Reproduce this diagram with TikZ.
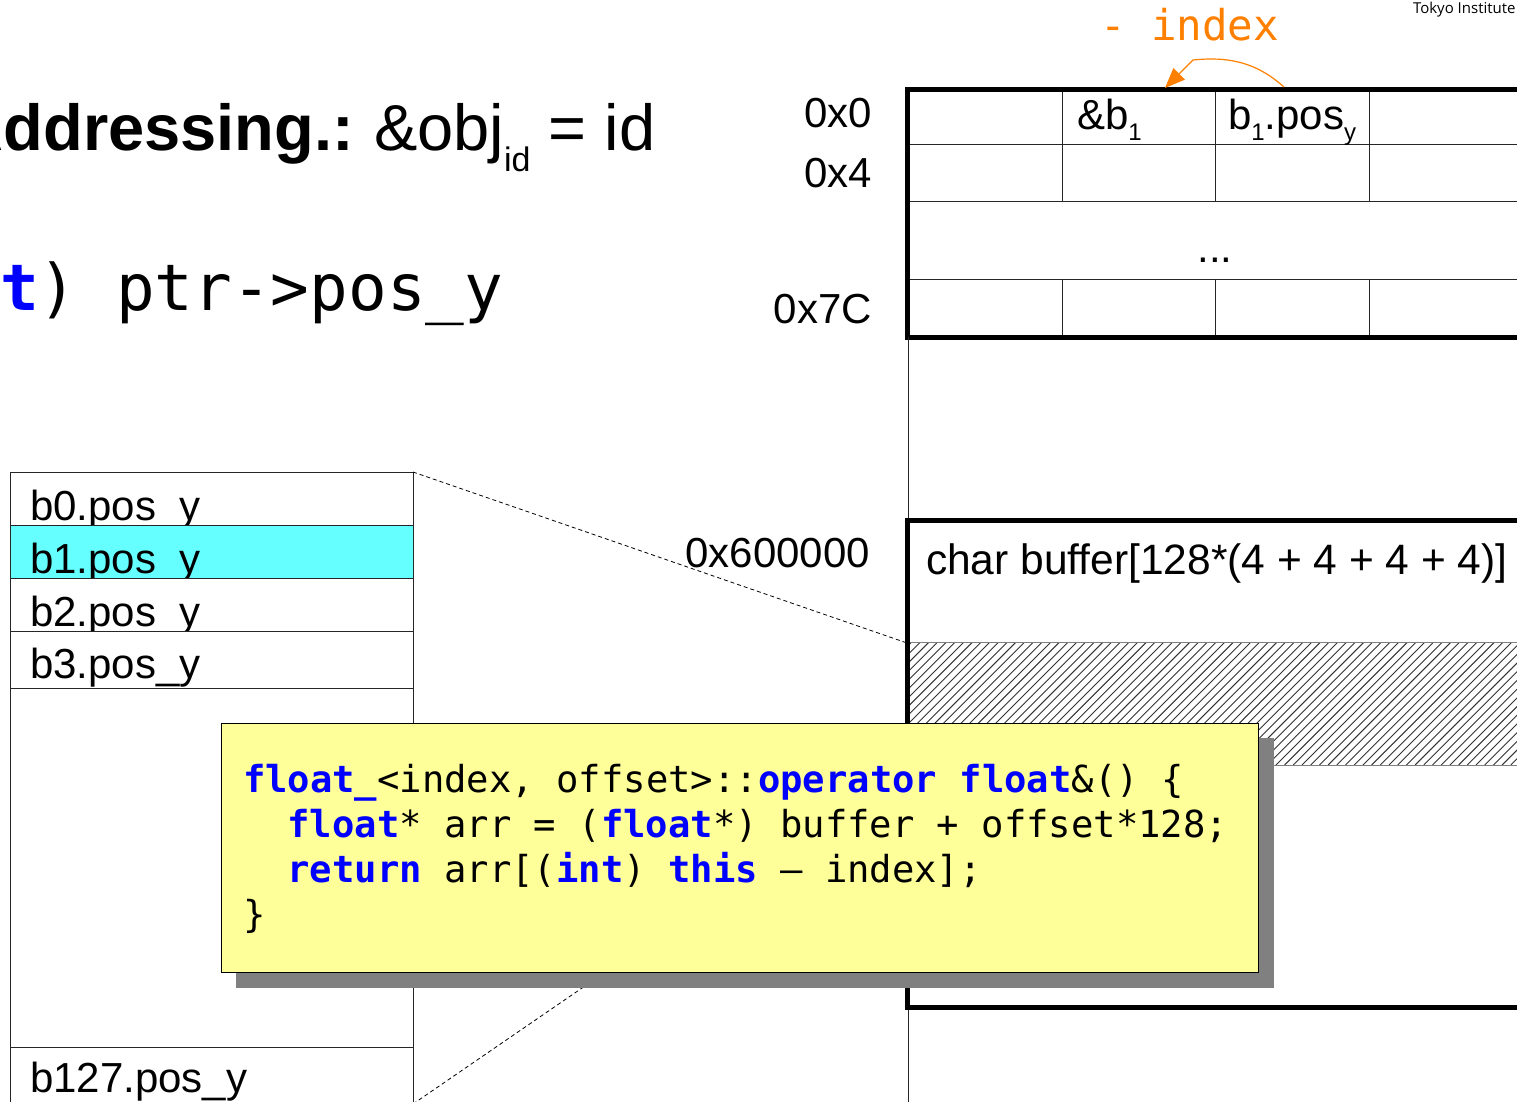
\documentclass[tikz,border=0pt]{standalone}
\usepackage{fontspec}
\setmainfont{Liberation Sans}
\newfontfamily\monofont{DejaVu Sans Mono}
\newfontfamily\tokyofont{Open Sans}
\usetikzlibrary{arrows.meta}
\definecolor{kwblue}{HTML}{0000FF}
\definecolor{hlcyan}{HTML}{66FFFF}
\definecolor{codeyellow}{HTML}{FFFF99}
\definecolor{shadowgray}{HTML}{808080}
\definecolor{idxorange}{HTML}{FF8000}
\newcommand\kw[1]{\textcolor{kwblue}{\bfseries #1}}
\newcommand\fs[1]{\fontsize{#1}{#1}\selectfont}
\newcommand\lowsub[3]{\raisebox{-#1pt}{\fs{#2}#3}}
\begin{document}
\begin{tikzpicture}[x=1pt,y=-1pt,
  txt/.style={inner sep=0pt,outer sep=0pt,anchor=base west},
  txtr/.style={inner sep=0pt,outer sep=0pt,anchor=base east},
  thickline/.style={line width=5pt,line join=miter,line cap=butt},
  thinline/.style={line width=1pt,black!85},
  cellbox/.style={line width=1pt,draw=black!85},
  hatchline/.style={line width=0.9pt,black!80},
  dashline/.style={line width=0.8pt,dash pattern=on 4pt off 3pt},
  codeln/.style={txt,font=\monofont\fs{37.2}},
  label42/.style={font=\fs{42}}]
\useasboundingbox (0,0) rectangle (1517,1102);
\fill[white] (0,0) rectangle (1517,1102);

% header texts
\node[txtr,font=\fs{65}\bfseries] (addr) at (354,151) {Addressing.:};
\node[txt,font=\fs{65}] (addreq) at (374,151) {\&obj\lowsub{21}{34}{id} = id};
\node[txt,font=\monofont\fs{64.3}] (ptrline) at (0,310) {\kw{t}) ptr->pos\_y};
\node[txt,font=\monofont\fs{42.5},text=idxorange] (minusidx) at (1100,41) {- index};
\node[txt,font=\tokyofont\fs{15}] (tokyo) at (1413,14) {Tokyo Institute};

% memory table
\draw[thinline] (907,145) -- (1520,145);
\draw[thinline] (907,202) -- (1520,202);
\draw[thinline] (907,279) -- (1520,279);
\foreach \x in {1062,1215,1369} {
  \draw[thinline] (\x,90) -- (\x,202);
  \draw[thinline] (\x,279) -- (\x,337);
}
\draw[thickline] (1522,90) -- (907,90) -- (907,337) -- (1522,337);
\node[txt,label42] (cellAddr) at (1077,130) {\&b\lowsub{11}{24}{1}};
\node[txt,label42] (cellPos) at (1228,130) {b\lowsub{11}{24}{1}.pos\lowsub{11}{24}{y}};
\node[inner sep=0pt,label42,anchor=base] (dots) at (1215,262) {...};
\node[txtr,label42] (a0) at (872,128) {0x0};
\node[txtr,label42] (a4) at (872,188) {0x4};
\node[txtr,label42] (a7c) at (872,323) {0x7C};
\node[txtr,label42] (a6) at (870,567) {0x600000};

% orange arrow
\coordinate (arrS) at (1284,87);
\coordinate (arrT) at (1165,88);
\draw[idxorange,line width=1.2pt,-{Triangle[length=20pt,width=16pt]}]
  (arrS) .. controls (1258,64) and (1232,56) .. (1193,60) -- (arrT);

% thin verticals between regions
\draw[thinline] (908,337) -- (908,520);
\draw[thinline] (908,1007) -- (908,1102);

% hatched region
\begin{scope}
\clip (910,642) rectangle (1517,765);
\foreach \i in {0,...,86} \draw[hatchline] ({780+\i*8.7},765) -- ++(123,-123);
\end{scope}
\draw[line width=1pt,shadowgray] (910,642) -- (1520,642);
\draw[line width=1pt,shadowgray] (910,765) -- (1520,765);

% buffer box
\draw[thickline] (1522,520) -- (907,520) -- (907,1007) -- (1522,1007);
\node[txt,font=\fs{42.5}] (bufText) at (926,574) {char buffer[128*(4 + 4 + 4 + 4)]};

% left list
\filldraw[cellbox,fill=white] (10,472) rectangle (413,525);
\node[txt,label42] (b0) at (30,520) {b0.pos\_y};
\filldraw[cellbox,fill=hlcyan] (10,525) rectangle (413,578);
\node[txt,label42] (b1) at (30,573) {b1.pos\_y};
\filldraw[cellbox,fill=white] (10,578) rectangle (413,631);
\node[txt,label42] (b2) at (30,626) {b2.pos\_y};
\filldraw[cellbox,fill=white] (10,631) rectangle (413,688);
\node[txt,label42] (b3) at (30,678) {b3.pos\_y};
\filldraw[cellbox,fill=white] (10,688) rectangle (413,1047);
\filldraw[cellbox,fill=white] (10,1047) rectangle (413,1112);
\node[txt,label42] (b127) at (30,1092) {b127.pos\_y};

% dashed connectors
\coordinate (listTR) at (413,472);
\coordinate (hatchTL) at (907,643);
\coordinate (listBR) at (413,1104);
\coordinate (hatchBL) at (907,765);
\draw[dashline] (listTR) -- (hatchTL);
\draw[dashline] (listBR) -- (hatchBL);

% code box with shadow
\fill[shadowgray] (236,738) rectangle (1274,988);
\filldraw[fill=codeyellow,draw=black,line width=1pt] (221,723) rectangle (1258,972);
\node[codeln] (code1) at (243,792) {\kw{float\_}<index, offset>::\kw{operator} \kw{float}\&() \{};
\node[codeln] (code2) at (287.5,837) {\kw{float}* arr = (\kw{float}*) buffer + offset*128;};
\node[codeln] (code3) at (287.5,882) {\kw{return} arr[(\kw{int}) \kw{this} – index];};
\node[codeln] (code4) at (243,927) {\}};
\end{tikzpicture}
\end{document}
